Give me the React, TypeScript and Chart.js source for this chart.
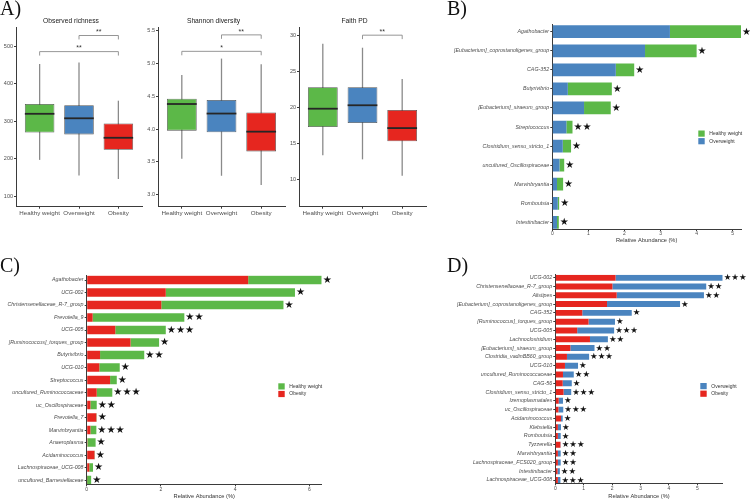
import React, { useEffect, useRef } from "react";
import { Chart, registerables } from "chart.js";

Chart.register(...registerables);

const SANS = '"Liberation Sans", Arial, sans-serif';
const SERIF = '"Liberation Serif", "Times New Roman", serif';
const STAR_FONT = '"DejaVu Sans", sans-serif';

const AXIS = "#3b3b3b";
const TICK_TEXT = "#4d4d4d";
const GREEN = "#5cb848";
const BLUE = "#4a84bf";
const RED = "#e6261f";

// ---- A) alpha diversity (box plots) ----
const groups = ["Healthy weight", "Overweight", "Obesity"];
const groupColors = [GREEN, BLUE, RED];

const richnessLow = [197, 155, 146];
const richnessQ1 = [270, 265, 224];
const richnessMedian = [320, 308, 256];
const richnessQ3 = [346, 343, 294];
const richnessHigh = [453, 457, 355];
const richnessTicks = [100, 200, 300, 400, 500];
const richnessBrackets = [
  { from: 2, to: 3, level: 529, label: "**" },
  { from: 1, to: 3, level: 486, label: "**" },
];

const shannonLow = [3.55, 3.29, 3.15];
const shannonQ1 = [3.975, 3.95, 3.66];
const shannonMedian = [4.38, 4.235, 3.96];
const shannonQ3 = [4.46, 4.44, 4.25];
const shannonHigh = [4.82, 5.07, 4.985];
const shannonTicks = [3.0, 3.5, 4.0, 4.5, 5.0, 5.5];
const shannonBrackets = [
  { from: 2, to: 3, level: 5.43, label: "**" },
  { from: 1, to: 3, level: 5.18, label: "*" },
];

const faithLow = [13.3, 12.74, 10.46];
const faithQ1 = [17.26, 17.8, 15.26];
const faithMedian = [19.8, 20.28, 17.1];
const faithQ3 = [22.8, 22.8, 19.63];
const faithHigh = [28.84, 28.3, 23.95];
const faithTicks = [10, 15, 20, 25, 30];
const faithBrackets = [{ from: 2, to: 3, level: 30.05, label: "**" }];

// ---- B) Healthy weight vs Overweight ----
const taxaB = [
  "Agathobacter",
  "[Eubacterium]_coprostanoligenes_group",
  "CAG-352",
  "Butyrivibrio",
  "[Eubacterium]_siraeum_group",
  "Streptococcus",
  "Clostridium_sensu_stricto_1",
  "uncultured_Oscillospiraceae",
  "Marvinbryantia",
  "Romboutsia",
  "Intestinibacter",
];
const overweightB = [3.26, 2.57, 1.76, 0.43, 0.88, 0.39, 0.29, 0.2, 0.13, 0.15, 0.13];
const healthyB = [1.97, 1.43, 0.51, 1.22, 0.74, 0.17, 0.23, 0.13, 0.17, 0.04, 0.05];
const starsB = [1, 1, 1, 1, 1, 2, 1, 1, 1, 1, 1];
const ticksB = [0, 1, 2, 3, 4, 5];

// ---- C) Healthy weight vs Obesity ----
const taxaC = [
  "Agathobacter",
  "UCG-002",
  "Christensenellaceae_R-7_group",
  "Prevotella_9",
  "UCG-005",
  "[Ruminococcus]_torques_group",
  "Butyrivibrio",
  "UCG-010",
  "Streptococcus",
  "uncultured_Ruminococcaceae",
  "uc_Oscillospiraceae",
  "Prevotella_7",
  "Marvinbryantia",
  "Anaeroplasma",
  "Acidaminococcus",
  "Lachnospiraceae_UCG-008",
  "uncultured_Barnesiellaceae",
];
const obesityC = [4.35, 2.13, 2.01, 0.16, 0.77, 1.18, 0.36, 0.34, 0.63, 0.27, 0.1, 0.26, 0.1, 0.02, 0.21, 0.07, 0.01];
const healthyC = [1.98, 3.48, 3.29, 2.47, 1.36, 0.77, 1.19, 0.55, 0.18, 0.42, 0.17, 0.01, 0.16, 0.22, 0.01, 0.1, 0.11];
const starsC = [1, 1, 1, 2, 3, 1, 2, 1, 1, 3, 2, 1, 3, 1, 1, 1, 1];
const ticksC = [0, 2, 4, 6];

// ---- D) Overweight vs Obesity ----
const taxaD = [
  "UCG-002",
  "Christensenellaceae_R-7_group",
  "Alistipes",
  "[Eubacterium]_coprostanoligenes_group",
  "CAG-352",
  "[Ruminococcus]_torques_group",
  "UCG-005",
  "Lachnoclostridium",
  "[Eubacterium]_siraeum_group",
  "Clostridia_vadinBB60_group",
  "UCG-010",
  "uncultured_Ruminococcaceae",
  "CAG-56",
  "Clostridium_sensu_stricto_1",
  "Izemoplasmatales",
  "uc_Oscillospiraceae",
  "Acidaminococcus",
  "Klebsiella",
  "Romboutsia",
  "Tyzzerella",
  "Marvinbryantia",
  "Lachnospiraceae_FCS020_group",
  "Intestinibacter",
  "Lachnospiraceae_UCG-008",
];
const obesityD = [2.12, 2.01, 2.16, 1.82, 0.95, 1.17, 0.77, 1.22, 0.53, 0.41, 0.34, 0.27, 0.26, 0.29, 0.12, 0.11, 0.2, 0.09, 0.09, 0.18, 0.09, 0.09, 0.08, 0.09];
const overweightD = [3.77, 3.3, 3.07, 2.57, 1.74, 0.93, 1.3, 0.63, 0.85, 0.78, 0.46, 0.38, 0.32, 0.27, 0.15, 0.17, 0.06, 0.11, 0.1, 0.01, 0.1, 0.1, 0.08, 0.09];
const starsD = [3, 2, 2, 1, 1, 1, 3, 2, 2, 3, 1, 2, 1, 3, 1, 3, 1, 1, 1, 3, 2, 2, 2, 3];
const ticksD = [0, 1, 2, 3, 4, 5];

type Bracket = { from: number; to: number; level: number; label: string };

function whiskerPlugin(low: number[], median: number[], high: number[]) {
  return {
    id: "whiskers",
    beforeDatasetsDraw(chart: any) {
      const { ctx } = chart;
      const y = chart.scales.y;
      const meta = chart.getDatasetMeta(0);
      ctx.save();
      ctx.strokeStyle = "#8a8a8a";
      ctx.lineWidth = 1.3;
      meta.data.forEach((bar: any, i: number) => {
        ctx.beginPath();
        ctx.moveTo(bar.x, y.getPixelForValue(low[i]));
        ctx.lineTo(bar.x, y.getPixelForValue(high[i]));
        ctx.stroke();
      });
      ctx.restore();
    },
    afterDatasetsDraw(chart: any) {
      const { ctx } = chart;
      const y = chart.scales.y;
      const meta = chart.getDatasetMeta(0);
      ctx.save();
      ctx.strokeStyle = "#262626";
      ctx.lineWidth = 1.8;
      meta.data.forEach((bar: any, i: number) => {
        const py = y.getPixelForValue(median[i]);
        ctx.beginPath();
        ctx.moveTo(bar.x - bar.width / 2, py);
        ctx.lineTo(bar.x + bar.width / 2, py);
        ctx.stroke();
      });
      ctx.restore();
    },
  };
}

function bracketPlugin(brackets: Bracket[]) {
  return {
    id: "brackets",
    afterDatasetsDraw(chart: any) {
      const { ctx } = chart;
      const xs = chart.scales.x;
      const ys = chart.scales.y;
      const tip = (ys.max - ys.min) * 0.022;
      ctx.save();
      ctx.strokeStyle = "#8a8a8a";
      ctx.lineWidth = 0.9;
      ctx.fillStyle = "#333";
      ctx.font = `7px ${SANS}`;
      ctx.textAlign = "center";
      ctx.textBaseline = "alphabetic";
      brackets.forEach((b) => {
        const x1 = xs.getPixelForValue(b.from);
        const x2 = xs.getPixelForValue(b.to);
        const yl = ys.getPixelForValue(b.level);
        const yt = ys.getPixelForValue(b.level - tip);
        ctx.beginPath();
        ctx.moveTo(x1, yt);
        ctx.lineTo(x1, yl);
        ctx.lineTo(x2, yl);
        ctx.lineTo(x2, yt);
        ctx.stroke();
        ctx.fillText(b.label, (x1 + x2) / 2, yl - 1.2);
      });
      ctx.restore();
    },
  };
}

function starPlugin(stars: number[], size: number) {
  return {
    id: "stars",
    afterDatasetsDraw(chart: any) {
      const { ctx } = chart;
      const xs = chart.scales.x;
      const ys = chart.scales.y;
      const sets = chart.data.datasets;
      ctx.save();
      ctx.fillStyle = "#111";
      ctx.font = `${size}px ${STAR_FONT}`;
      ctx.textAlign = "left";
      ctx.textBaseline = "middle";
      stars.forEach((n, i) => {
        const total = sets.reduce((s: number, d: any) => s + d.data[i].x, 0);
        ctx.fillText("★".repeat(n), xs.getPixelForValue(total) + 1, ys.getPixelForValue(i) + 0.3);
      });
      ctx.restore();
    },
  };
}

function legendPlugin(items: [string, string][], x: number, y: number) {
  return {
    id: "sideLegend",
    afterDraw(chart: any) {
      const { ctx } = chart;
      ctx.save();
      ctx.font = `5px ${SANS}`;
      ctx.textBaseline = "middle";
      ctx.textAlign = "left";
      items.forEach(([label, color], k) => {
        const top = y + k * 7.6;
        ctx.fillStyle = color;
        ctx.fillRect(x, top, 6.4, 6.2);
        ctx.fillStyle = "#333";
        ctx.fillText(label, x + 11, top + 3.2);
      });
      ctx.restore();
    },
  };
}

type BoxPanel = {
  title: string;
  low: number[];
  q1: number[];
  median: number[];
  q3: number[];
  high: number[];
  ticks: number[];
  yMin: number;
  yMax: number;
  decimals: number;
  brackets: Bracket[];
};

function boxConfig(p: BoxPanel): any {
  return {
    type: "bar",
    data: {
      datasets: [
        {
          data: groups.map((_, i) => ({ x: i + 1, y: [p.q1[i], p.q3[i]] })),
          backgroundColor: groupColors,
          borderColor: "rgba(50,50,50,0.85)",
          borderWidth: 0.8,
          borderSkipped: false,
          barPercentage: 0.75,
          categoryPercentage: 1,
        },
      ],
    },
    options: {
      responsive: false,
      animation: false,
      events: [],
      layout: { padding: { left: 0, right: 3, top: 0, bottom: 0 } },
      plugins: {
        legend: { display: false },
        tooltip: { enabled: false },
        title: {
          display: true,
          text: p.title,
          color: "#1a1a1a",
          font: { family: SANS, size: 6.7, weight: "normal" },
          padding: { top: 17.6, bottom: 2 },
        },
      },
      scales: {
        x: {
          type: "linear",
          min: 0.4,
          max: 3.6,
          offset: false,
          afterBuildTicks: (s: any) => {
            s.ticks = groups.map((_, i) => ({ value: i + 1 }));
          },
          afterFit: (s: any) => {
            s.height = 18.3;
          },
          ticks: {
            autoSkip: false,
            maxRotation: 0,
            padding: 0.5,
            color: TICK_TEXT,
            font: { family: SANS, size: 6.2 },
            callback: (v: number) => groups[Math.round(v) - 1],
          },
          grid: { offset: false, drawOnChartArea: false, tickLength: 2, color: AXIS, tickColor: AXIS },
          border: { display: true, color: AXIS, width: 1 },
        },
        y: {
          type: "linear",
          min: p.yMin,
          max: p.yMax,
          beginAtZero: false,
          afterBuildTicks: (s: any) => {
            s.ticks = p.ticks.map((v) => ({ value: v }));
          },
          afterFit: (s: any) => {
            s.width = 16;
          },
          ticks: {
            padding: 1,
            color: TICK_TEXT,
            font: { family: SANS, size: 5.5 },
            callback: (v: number) => v.toFixed(p.decimals),
          },
          grid: { drawOnChartArea: false, tickLength: 2, color: AXIS, tickColor: AXIS },
          border: { display: true, color: AXIS, width: 1 },
        },
      },
    },
    plugins: [whiskerPlugin(p.low, p.median, p.high), bracketPlugin(p.brackets)],
  };
}

type BarPanel = {
  taxa: string[];
  first: number[];
  second: number[];
  firstLabel: string;
  secondLabel: string;
  firstColor: string;
  secondColor: string;
  stars: number[];
  starSize: number;
  xMax: number;
  xTicks: number[];
  yMin: number;
  yMax: number;
  yWidth: number;
  xHeight: number;
  padding: { top: number; right: number; bottom: number; left: number };
  legend: [string, string][];
  legendX: number;
  legendY: number;
  barPct: number;
};

function barConfig(p: BarPanel): any {
  return {
    type: "bar",
    data: {
      datasets: [
        {
          label: p.firstLabel,
          data: p.first.map((v, i) => ({ x: v, y: i })),
          backgroundColor: p.firstColor,
        },
        {
          label: p.secondLabel,
          data: p.second.map((v, i) => ({ x: v, y: i })),
          backgroundColor: p.secondColor,
        },
      ],
    },
    options: {
      indexAxis: "y",
      responsive: false,
      animation: false,
      events: [],
      datasets: { bar: { barPercentage: p.barPct, categoryPercentage: 1, borderWidth: 0 } },
      layout: { padding: p.padding },
      plugins: { legend: { display: false }, tooltip: { enabled: false } },
      scales: {
        x: {
          type: "linear",
          stacked: true,
          min: 0,
          max: p.xMax,
          afterBuildTicks: (s: any) => {
            s.ticks = p.xTicks.map((v) => ({ value: v }));
          },
          afterFit: (s: any) => {
            s.height = p.xHeight;
          },
          ticks: {
            autoSkip: false,
            maxRotation: 0,
            padding: 0,
            color: TICK_TEXT,
            font: { family: SANS, size: 5 },
          },
          title: {
            display: true,
            text: "Relative Abundance (%)",
            color: "#333",
            font: { family: SANS, size: 5.7 },
            padding: { top: 0, bottom: 0 },
          },
          grid: { drawOnChartArea: false, tickLength: 2, color: AXIS, tickColor: AXIS },
          border: { display: true, color: AXIS, width: 1 },
        },
        y: {
          type: "linear",
          stacked: true,
          reverse: true,
          offset: false,
          min: p.yMin,
          max: p.yMax,
          afterBuildTicks: (s: any) => {
            s.ticks = p.taxa.map((_, i) => ({ value: i }));
          },
          afterFit: (s: any) => {
            s.width = p.yWidth;
          },
          ticks: {
            autoSkip: false,
            padding: 1.2,
            color: TICK_TEXT,
            font: { family: SANS, size: 5.3, style: "italic" },
            callback: (v: number) => p.taxa[Math.round(v)],
          },
          grid: { offset: false, drawOnChartArea: false, tickLength: 2, color: AXIS, tickColor: AXIS },
          border: { display: true, color: AXIS, width: 1 },
        },
      },
    },
    plugins: [starPlugin(p.stars, p.starSize), legendPlugin(p.legend, p.legendX, p.legendY)],
  };
}

function ChartCanvas(props: { left: number; top: number; width: number; height: number; config: () => any }) {
  const ref = useRef<HTMLCanvasElement>(null);
  useEffect(() => {
    const chart = new Chart(ref.current as HTMLCanvasElement, props.config());
    return () => chart.destroy();
  }, []);
  return (
    <canvas
      ref={ref}
      width={props.width}
      height={props.height}
      style={{ position: "absolute", left: props.left, top: props.top, width: props.width, height: props.height }}
    />
  );
}

function PanelLetter(props: { text: string; left: number; top: number }) {
  return (
    <div
      style={{
        position: "absolute",
        left: props.left,
        top: props.top,
        fontFamily: SERIF,
        fontSize: 20,
        lineHeight: "20px",
        color: "#111",
        whiteSpace: "nowrap",
      }}
    >
      {props.text}
    </div>
  );
}

const richnessPanel: BoxPanel = {
  title: "Observed richness",
  low: richnessLow,
  q1: richnessQ1,
  median: richnessMedian,
  q3: richnessQ3,
  high: richnessHigh,
  ticks: richnessTicks,
  yMin: 72,
  yMax: 550,
  decimals: 0,
  brackets: richnessBrackets,
};

const shannonPanel: BoxPanel = {
  title: "Shannon diversity",
  low: shannonLow,
  q1: shannonQ1,
  median: shannonMedian,
  q3: shannonQ3,
  high: shannonHigh,
  ticks: shannonTicks,
  yMin: 2.82,
  yMax: 5.54,
  decimals: 1,
  brackets: shannonBrackets,
};

const faithPanel: BoxPanel = {
  title: "Faith PD",
  low: faithLow,
  q1: faithQ1,
  median: faithMedian,
  q3: faithQ3,
  high: faithHigh,
  ticks: faithTicks,
  yMin: 6.14,
  yMax: 31.1,
  decimals: 0,
  brackets: faithBrackets,
};

const panelB: BarPanel = {
  taxa: taxaB,
  first: overweightB,
  second: healthyB,
  firstLabel: "Overweight",
  secondLabel: "Healthy weight",
  firstColor: BLUE,
  secondColor: GREEN,
  stars: starsB,
  starSize: 10,
  xMax: 5.23,
  xTicks: ticksB,
  yMin: -0.39,
  yMax: 10.35,
  yWidth: 177.3,
  xHeight: 14.5,
  padding: { top: 24.3, right: 9, bottom: 6.5, left: 0 },
  legend: [
    ["Healthy weight", GREEN],
    ["Overweight", BLUE],
  ],
  legendX: 323.3,
  legendY: 130.5,
  barPct: 0.67,
};

const panelC: BarPanel = {
  taxa: taxaC,
  first: obesityC,
  second: healthyC,
  firstLabel: "Obesity",
  secondLabel: "Healthy weight",
  firstColor: RED,
  secondColor: GREEN,
  stars: starsC,
  starSize: 10.2,
  xMax: 6.33,
  xTicks: ticksC,
  yMin: -0.376,
  yMax: 16.34,
  yWidth: 86.7,
  xHeight: 16,
  padding: { top: 25.3, right: 53.3, bottom: 0.7, left: 0 },
  legend: [
    ["Healthy weight", GREEN],
    ["Obesity", RED],
  ],
  legendX: 278.3,
  legendY: 133.3,
  barPct: 0.67,
};

const panelD: BarPanel = {
  taxa: taxaD,
  first: obesityD,
  second: overweightD,
  firstLabel: "Obesity",
  secondLabel: "Overweight",
  firstColor: RED,
  secondColor: BLUE,
  stars: starsD,
  starSize: 8.5,
  xMax: 5.89,
  xTicks: ticksD,
  yMin: -0.34,
  yMax: 23.375,
  yWidth: 180.3,
  xHeight: 17,
  padding: { top: 24.7, right: 27.3, bottom: 0.7, left: 0 },
  legend: [
    ["Overweight", BLUE],
    ["Obesity", RED],
  ],
  legendX: 325.3,
  legendY: 133,
  barPct: 0.68,
};

export default function App() {
  return (
    <div
      style={{
        position: "fixed",
        left: 0,
        top: 0,
        width: 750,
        height: 501,
        background: "#ffffff",
        overflow: "hidden",
      }}
    >
      <ChartCanvas left={0} top={0} width={145} height={225} config={() => boxConfig(richnessPanel)} />
      <ChartCanvas left={142} top={0} width={146} height={225} config={() => boxConfig(shannonPanel)} />
      <ChartCanvas left={283} top={0} width={146} height={225} config={() => boxConfig(faithPanel)} />
      <ChartCanvas left={375} top={0} width={375} height={250} config={() => barConfig(panelB)} />
      <ChartCanvas left={0} top={250} width={375} height={251} config={() => barConfig(panelC)} />
      <ChartCanvas left={375} top={250} width={375} height={251} config={() => barConfig(panelD)} />
      <PanelLetter text="A)" left={0} top={-2} />
      <PanelLetter text="B)" left={447} top={-1.7} />
      <PanelLetter text="C)" left={0} top={255} />
      <PanelLetter text="D)" left={447} top={254.7} />
    </div>
  );
}
